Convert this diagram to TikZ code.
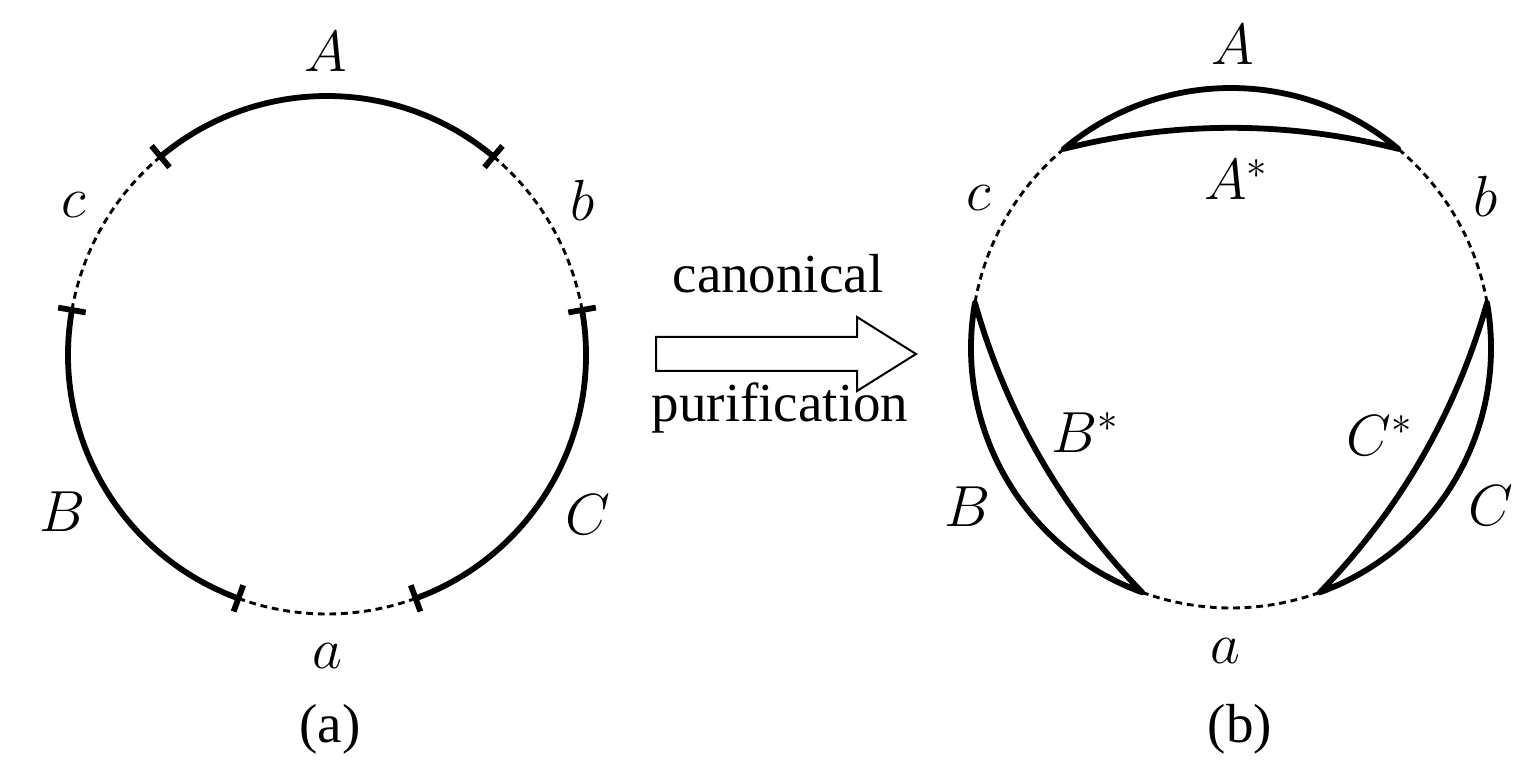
\RequirePackage{fix-cm}
\documentclass[tikz,border=0pt]{standalone}
\usepackage{fontspec}
\setmainfont{Liberation Serif}
\newfontfamily\timesfont{Liberation Serif}
\usetikzlibrary{calc}
\begin{document}
\begin{tikzpicture}[x=0.5pt,y=0.5pt,
  thickline/.style={line width=2.9pt},
  dotline/.style={line width=1.45pt, dash pattern=on 3.4pt off 2.4pt},
  tickmark/.style={line width=2.9pt},
  lab/.style={inner sep=0pt, anchor=base, font=\fontsize{29}{35}\selectfont},
  txt/.style={inner sep=0pt, anchor=base, font=\timesfont\fontsize{27.5}{33}\selectfont}]
\useasboundingbox (0,0) rectangle (1526,772);
\coordinate (L) at (327,417);
\coordinate (R) at (1231,424);

% ---- left circle ----
\foreach \a/\b in {50/130,170/250,290/370}
  \draw[thickline] (L) ++(\a:129.5pt) arc[start angle=\a,end angle=\b,radius=129.5pt];
\foreach \a/\b in {10/50,130/170,250/290}
  \draw[dotline] (L) ++(\a:129.5pt) arc[start angle=\a,end angle=\b,radius=129.5pt];
\foreach \t in {10,50,130,170,250,290}
  \draw[tickmark] ($(L)+(\t:122.5pt)$) -- ($(L)+(\t:136.5pt)$);

% ---- right circle ----
\foreach \c/\n in {90/A,210/B,330/C} {
  \coordinate (s\n) at ($(R)+(\c-40:130pt)$);
  \coordinate (e\n) at ($(R)+(\c+40:130pt)$);
  \coordinate (q\n) at ($(R)+(\c:120.6pt)$);
  \draw[thickline,line join=round] (s\n) arc[start angle=\c-40,end angle=\c+40,radius=130pt]
     .. controls ($(e\n)!2/3!(q\n)$) and ($(s\n)!2/3!(q\n)$) .. cycle;
}
\foreach \a/\b in {10/50,130/170,250/290}
  \draw[dotline] (R) ++(\a:130pt) arc[start angle=\a,end angle=\b,radius=130pt];

% ---- arrow ----
\draw[line width=1pt] (656,435) -- (857,435) -- (857,455) -- (916,418) -- (857,381) -- (857,401) -- (656,401) -- cycle;
\node[txt] (t1) at (778,479) {canonical};
\node[txt] (t2) at (780,350.3) {purification};

% ---- left labels ----
\node[lab] (lA) at (326,700.3) {$A$};
\node[lab] (lc) at (73.4,554) {$c$};
\node[lab] (lb) at (583,551) {$b$};
\node[lab] (lB) at (63,240.3) {$B$};
\node[lab] (lC) at (587.5,238) {$C$};
\node[lab] (la) at (327,104) {$a$};
\node[txt] (capa) at (330,30) {(a)};

% ---- right labels ----
\node[lab] (rA) at (1232.5,707) {$A$};
\node[lab] (rAs) at (1236,572) {$A^*$};
\node[lab] (rc) at (978.5,561) {$c$};
\node[lab] (rb) at (1486,555) {$b$};
\node[lab] (rBs) at (1085,319.3) {$B^*$};
\node[lab] (rCs) at (1380,316) {$C^*$};
\node[lab] (rB) at (967.5,246) {$B$};
\node[lab] (rC) at (1491,246.5) {$C$};
\node[lab] (ra) at (1225,109) {$a$};
\node[txt] (capb) at (1240,30) {(b)};
\end{tikzpicture}
\end{document}
